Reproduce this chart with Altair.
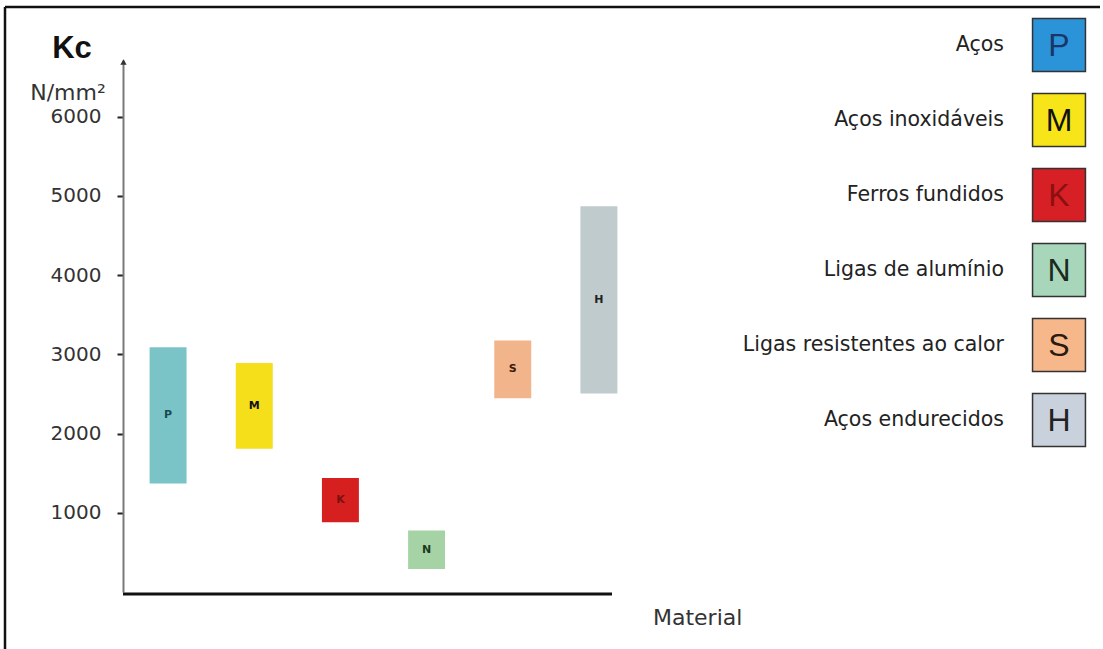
import altair as alt
import pandas as pd

# ---- data ----
codes = ["P", "M", "K", "N", "S", "H"]
kc_low = [1370, 1810, 880, 290, 2445, 2505]
kc_high = [3090, 2890, 1440, 775, 3175, 4870]
names = ["Aços", "Aços inoxidáveis", "Ferros fundidos", "Ligas de alumínio",
         "Ligas resistentes ao calor", "Aços endurecidos"]
bar_colors = ["#7ac4c8", "#f5df1a", "#d5201f", "#a6d3a6", "#f2b48b", "#bfcbcd"]
bar_text_colors = ["#1a4a58", "#111111", "#7a0f0f", "#1a3a20", "#3a1a0a", "#222222"]
box_colors = ["#2b93d8", "#f7e419", "#d71f26", "#a7d6bb", "#f6b88a", "#c9d2dc"]
box_text_colors = ["#1a3568", "#111111", "#8b1010", "#1a2a20", "#2a1a10", "#222222"]
y_ticks = [1000, 2000, 3000, 4000, 5000, 6000]

bars_df = pd.DataFrame({"code": codes, "low": kc_low, "high": kc_high})
legend_df = pd.DataFrame({"code": codes, "name": names})

W, H = 980, 532

x_scale = alt.Scale(domain=codes, range=[2, 519], paddingInner=0.571, paddingOuter=0.2855)
y_scale = alt.Scale(domain=[0, 6717], nice=False)

base = alt.Chart(bars_df)

bars = base.mark_bar().encode(
    x=alt.X("code:N", sort=codes, scale=x_scale, axis=None),
    y=alt.Y("low:Q", scale=y_scale,
            axis=alt.Axis(values=y_ticks, format="d", title=None, grid=False,
                          domainColor="#7a7a7a", domainWidth=2,
                          tickColor="#222222", tickSize=6, tickWidth=2,
                          labelFont="DejaVu Sans", labelFontSize=20,
                          labelColor="#333333", labelPadding=16)),
    y2="high:Q",
    color=alt.Color("code:N", scale=alt.Scale(domain=codes, range=bar_colors), legend=None),
)

bar_text = base.transform_calculate(mid="(datum.low + datum.high) / 2").mark_text(
    font="DejaVu Sans", fontSize=11, fontWeight="bold", baseline="middle"
).encode(
    x=alt.X("code:N", sort=codes, scale=x_scale, axis=None),
    y=alt.Y("mid:Q", scale=y_scale, axis=None),
    text="code:N",
    color=alt.Color("code:N", scale=alt.Scale(domain=codes, range=bar_text_colors), legend=None),
)

# custom legend on the right
leg_y = alt.Y("code:N", sort=codes,
              scale=alt.Scale(type="point", domain=codes, range=[-15, 360], padding=0),
              axis=None)
leg_base = alt.Chart(legend_df)
leg_boxes = leg_base.mark_square(size=2800, opacity=1, strokeWidth=1.5, stroke="#333333").encode(
    x=alt.value(936),
    y=leg_y,
    fill=alt.Fill("code:N", scale=alt.Scale(domain=codes, range=box_colors), legend=None),
)
leg_letters = leg_base.mark_text(font="Liberation Sans", fontSize=32, baseline="middle", dy=1).encode(
    x=alt.value(936),
    y=leg_y,
    text="code:N",
    color=alt.Color("code:N", scale=alt.Scale(domain=codes, range=box_text_colors), legend=None),
)
leg_labels = leg_base.mark_text(font="DejaVu Sans", fontSize=20.5, align="right",
                                baseline="middle", color="#222222").encode(
    x=alt.value(881),
    y=leg_y,
    text="name:N",
)

legend = alt.layer(leg_boxes, leg_letters, leg_labels)

# axis decorations and titles
one = pd.DataFrame({"t": ["x"]})
x_axis_line = alt.Chart(one).mark_rule(color="#111111", strokeWidth=3).encode(
    x=alt.value(0), x2=alt.value(489), y=alt.value(534))
arrow = alt.Chart(one).mark_point(shape="triangle-up", filled=True, size=40,
                                  color="#333333", opacity=1).encode(
    x=alt.value(0.5), y=alt.value(2))
frame_top = alt.Chart(one).mark_rule(color="#111111", strokeWidth=2.5).encode(
    x=alt.value(-118), x2=alt.value(977), y=alt.value(-53))
frame_left = alt.Chart(one).mark_rule(color="#111111", strokeWidth=2.5).encode(
    x=alt.value(-118), y=alt.value(-53), y2=alt.value(589))

kc = alt.Chart(pd.DataFrame({"t": ["Kc"]})).mark_text(
    font="Liberation Sans", fontSize=31, fontWeight="bold", color="#111111",
    align="center", baseline="middle").encode(
    x=alt.value(-51), y=alt.value(-11), text="t:N")
unit = alt.Chart(pd.DataFrame({"t": ["N/mm²"]})).mark_text(
    font="DejaVu Sans", fontSize=22, color="#333333",
    align="center", baseline="middle").encode(
    x=alt.value(-55), y=alt.value(33), text="t:N")
material = alt.Chart(pd.DataFrame({"t": ["Material"]})).mark_text(
    font="DejaVu Sans", fontSize=22, color="#333333",
    align="left", baseline="middle").encode(
    x=alt.value(530), y=alt.value(558), text="t:N")

chart = alt.layer(
    bars, bar_text, legend, x_axis_line, arrow, frame_top, frame_left, kc, unit, material
).resolve_scale(
    x="independent", y="independent", color="independent"
).properties(
    width=W, height=H,
    autosize=alt.AutoSizeParams(type="none"),
    padding={"left": 123, "top": 60, "right": 0, "bottom": 57},
    background="white",
).configure_view(stroke=None)

chart.save("out.html", embed_options={"renderer": "svg", "actions": False})
